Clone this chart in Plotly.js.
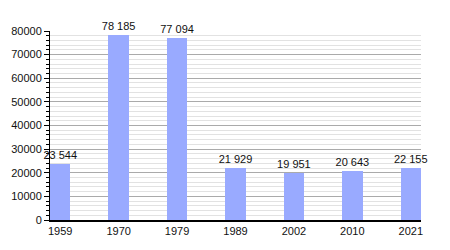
<!DOCTYPE html>
<html>
<head>
<meta charset="utf-8">
<script src="https://cdn.plot.ly/plotly-3.0.1.min.js"></script>
<style>html,body{margin:0;padding:0;background:#fff;}#chart{width:450px;height:250px;}</style>
</head>
<body>
<div id="chart"></div>
<script>
const years = ['1959', '1970', '1979', '1989', '2002', '2010', '2021'];
const population = [23544, 78185, 77094, 21929, 19951, 20643, 22155];
const yTicks = [0, 10000, 20000, 30000, 40000, 50000, 60000, 70000, 80000];

function fmt(v) {
  return String(v).replace(/\B(?=(\d{3})+(?!\d))/g, ' ');
}

const trace = {
  type: 'bar',
  x: years,
  y: population,
  width: 0.35,
  marker: {color: '#99aaff', line: {width: 0}},
  text: population.map(fmt),
  textposition: 'outside',
  constraintext: 'none',
  cliponaxis: false,
  textfont: {family: 'Liberation Sans, Arial, sans-serif', size: 11, color: '#111'},
  hoverinfo: 'none'
};

const layout = {
  width: 450,
  height: 250,
  margin: {l: 50, r: 29, t: 31, b: 30},
  paper_bgcolor: '#fff',
  plot_bgcolor: '#fff',
  showlegend: false,
  font: {family: 'Liberation Sans, Arial, sans-serif', size: 11, color: '#111'},
  xaxis: {
    type: 'category',
    range: [-0.175, 6.175],
    showline: true,
    linecolor: '#000',
    linewidth: 1.5,
    ticks: '',
    showgrid: false,
    zeroline: false,
    tickfont: {size: 11, color: '#111'}
  },
  yaxis: {
    range: [0, 80000],
    tickvals: yTicks,
    ticktext: yTicks.map(String),
    showline: true,
    linecolor: '#000',
    linewidth: 1,
    ticks: 'outside',
    ticklen: 5,
    tickcolor: '#000',
    showgrid: true,
    gridcolor: '#aaa',
    gridwidth: 1,
    zeroline: false,
    tickfont: {size: 11, color: '#111'},
    minor: {dtick: 2000, showgrid: true, gridcolor: '#e2e2e2', gridwidth: 1, ticks: 'outside', ticklen: 3, tickcolor: '#000'}
  },
  bargap: 0
};

Plotly.newPlot('chart', [trace], layout, {staticPlot: true, displayModeBar: false});
</script>
</body>
</html>
